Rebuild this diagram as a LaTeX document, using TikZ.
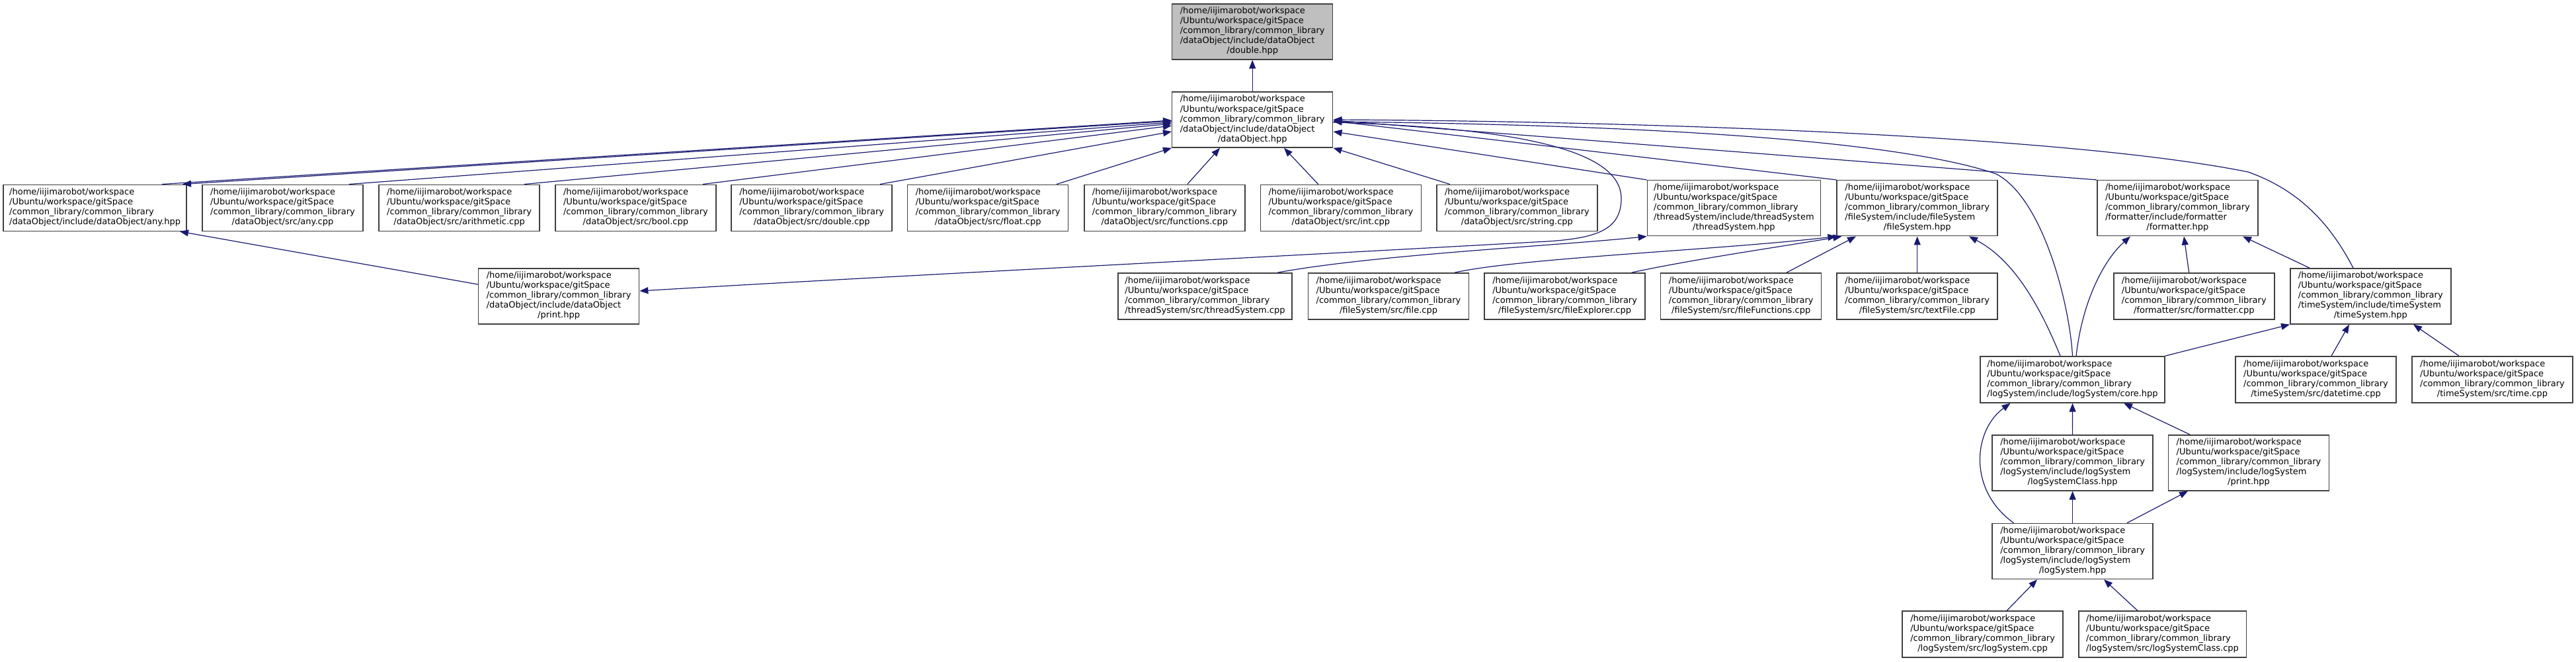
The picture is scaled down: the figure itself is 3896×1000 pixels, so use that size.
\documentclass[tikz,border=0pt]{standalone}
\usepackage{fontspec}
\setmainfont{DejaVu Sans}
\usepackage{xcolor}
\definecolor{edgeblue}{RGB}{25, 25, 112}
\definecolor{boxgray}{RGB}{64, 64, 64}
\definecolor{rootgray}{RGB}{191, 191, 191}
\usepackage{tikz}
\usetikzlibrary{arrows.meta, positioning, calc}

\newcommand{\pathhead}{/home/iijimarobot/workspace\\/Ubuntu/workspace/gitSpace\\/common\_library/common\_library}
\newcommand{\srcname}[1]{\begin{tabular}{@{}l@{}}\pathhead\\\multicolumn{1}{@{}c@{}}{#1}\end{tabular}}
\newcommand{\incname}[2]{\begin{tabular}{@{}l@{}}\pathhead\\#1\\\multicolumn{1}{@{}c@{}}{#2}\end{tabular}}

\begin{document}
\begin{tikzpicture}[x=0.1mm, y=-0.1mm,
    filebox/.style={draw=boxgray, fill=white, line width=0.15mm, inner sep=0pt, minimum width=24.3mm, minimum height=7mm, font=\fontsize{3.7}{4.27}\selectfont},
    filebox5/.style={filebox, minimum height=8.4mm},
    rootbox/.style={filebox5, fill=rootgray},
    dep/.style={draw=edgeblue, line width=0.12mm, -{Triangle[length=1.3mm, width=1mm]}}]
    \useasboundingbox (0,0) rectangle (3896,1000);

    \node[rootbox] (dbl) at (1894.2,47.9) {\incname{/dataObject/include/dataObject}{/double.hpp}};
    \node[filebox5] (dobj) at (1894.2,181) {\incname{/dataObject/include/dataObject}{/dataObject.hpp}};

    \node[filebox, minimum width=27.7mm] (anyh) at (143.6,314.3) {\srcname{/dataObject/include/dataObject/any.hpp}};
    \node[filebox] (anyc) at (427.5,314.3) {\srcname{/dataObject/src/any.cpp}};
    \node[filebox] (arith) at (694.6,314.3) {\srcname{/dataObject/src/arithmetic.cpp}};
    \node[filebox] (boolc) at (961.4,314.3) {\srcname{/dataObject/src/bool.cpp}};
    \node[filebox] (dblc) at (1227.7,314.3) {\srcname{/dataObject/src/double.cpp}};
    \node[filebox] (floatc) at (1494.2,314.3) {\srcname{/dataObject/src/float.cpp}};
    \node[filebox] (funcc) at (1761.3,314.3) {\srcname{/dataObject/src/functions.cpp}};
    \node[filebox] (intc) at (2027.9,314.3) {\srcname{/dataObject/src/int.cpp}};
    \node[filebox] (strc) at (2294.4,314.3) {\srcname{/dataObject/src/string.cpp}};
    \node[filebox5, minimum width=26.2mm] (thrh) at (2622.4,314.7) {\incname{/threadSystem/include/threadSystem}{/threadSystem.hpp}};
    \node[filebox5] (fsh) at (2899.7,314.7) {\incname{/fileSystem/include/fileSystem}{/fileSystem.hpp}};
    \node[filebox5] (fmth) at (3293.4,314.7) {\incname{/formatter/include/formatter}{/formatter.hpp}};

    \node[filebox5] (printd) at (845.1,447.9) {\incname{/dataObject/include/dataObject}{/print.hpp}};
    \node[filebox, minimum width=26.3mm] (thrc) at (1822.5,447.9) {\srcname{/threadSystem/src/threadSystem.cpp}};
    \node[filebox] (filec) at (2100,447.9) {\srcname{/fileSystem/src/file.cpp}};
    \node[filebox] (fexp) at (2366.6,447.9) {\srcname{/fileSystem/src/fileExplorer.cpp}};
    \node[filebox] (ffun) at (2633.2,447.9) {\srcname{/fileSystem/src/fileFunctions.cpp}};
    \node[filebox] (tfile) at (2899.7,447.9) {\srcname{/fileSystem/src/textFile.cpp}};
    \node[filebox] (fmtc) at (3318.3,447.9) {\srcname{/formatter/src/formatter.cpp}};
    \node[filebox5] (tsh) at (3585.3,447.9) {\incname{/timeSystem/include/timeSystem}{/timeSystem.hpp}};

    \node[filebox, minimum width=27.9mm] (core) at (3134.5,573.9) {\srcname{/logSystem/include/logSystem/core.hpp}};
    \node[filebox] (dtc) at (3502.5,573.9) {\srcname{/timeSystem/src/datetime.cpp}};
    \node[filebox] (timec) at (3769.5,573.9) {\srcname{/timeSystem/src/time.cpp}};

    \node[filebox5] (lsch) at (3134.6,699.8) {\incname{/logSystem/include/logSystem}{/logSystemClass.hpp}};
    \node[filebox5] (printl) at (3401,699.8) {\incname{/logSystem/include/logSystem}{/print.hpp}};
    \node[filebox5] (lsh) at (3134.6,833.5) {\incname{/logSystem/include/logSystem}{/logSystem.hpp}};
    \node[filebox] (lsc) at (2998.6,959.2) {\srcname{/logSystem/src/logSystem.cpp}};
    \node[filebox, minimum width=25.35mm] (lscc) at (3270.5,959.2) {\srcname{/logSystem/src/logSystemClass.cpp}};

    \draw[dep] (dobj) -- (dbl);
    \draw[dep] ([xshift=10.14mm]anyh.north) -- ([yshift=-0.1mm]dobj.west);
    \draw[dep] ([yshift=-0.2mm]dobj.west) -- ([xshift=13.24mm]anyh.north);
    \draw[dep] ([xshift=10.05mm]anyc.north) -- ([yshift=-0.4mm]dobj.west);
    \draw[dep] ([xshift=9.84mm]arith.north) -- ([yshift=-0.6mm]dobj.west);
    \draw[dep] ([xshift=10.16mm]boolc.north) -- ([yshift=-0.9mm]dobj.west);
    \draw[dep] ([xshift=10.33mm]dblc.north) -- ([yshift=-1.8mm]dobj.west);
    \draw[dep] ([xshift=10.38mm]floatc.north) -- (dobj.south west);
    \draw[dep] ([xshift=3.45mm]funcc.north) -- ([xshift=-4.92mm]dobj.south);
    \draw[dep] ([xshift=-3.42mm]intc.north) -- ([xshift=4.78mm]dobj.south);
    \draw[dep] ([xshift=-10.17mm]strc.north) -- (dobj.south east);

    \draw[dep] (thrh.north west) -- ([yshift=-1.8mm]dobj.east);
    \draw[dep] (fsh.north west) -- ([yshift=-0.2mm]dobj.east);
    \draw[dep] (fmth.north west) -- ([yshift=-0.1mm]dobj.east);
    \draw[dep] ([xshift=-2.63mm]tsh.north) .. controls (3520,330) and (3470,285) .. (3400,260) .. controls (3100,200) and (2400,183) .. (dobj.east);
    \draw[dep] (core.north) .. controls (3130,460) and (3090,300) .. (3019,263) .. controls (2850,205) and (2400,188) .. ([yshift=-0.3mm]dobj.east);
    \draw[dep] ([yshift=-0.4mm]dobj.east) .. controls (2350,195) and (2455,240) .. (2452,303) .. controls (2450,345) and (2420,360) .. (2340,365) .. controls (1800,395) and (1300,420) .. ([yshift=0.79mm]printd.east);
    \draw[dep] ([yshift=1.79mm]printd.west) -- ([xshift=12.84mm]anyh.south);

    \draw[dep] ([xshift=10.95mm]thrc.north) .. controls (2080,385) and (2350,372) .. (thrh.south west);
    \draw[dep] ([xshift=10mm]filec.north) .. controls (2300,390) and (2600,378) .. (fsh.south west);
    \draw[dep] ([xshift=10.1mm]fexp.north) .. controls (2560,392) and (2700,372) .. ([xshift=0.8mm]fsh.south west);
    \draw[dep] ([xshift=6.88mm]ffun.north) -- ([xshift=-9.27mm]fsh.south);
    \draw[dep] (tfile) -- (fsh);
    \draw[dep] ([xshift=-1.85mm]core.north) .. controls (3080,450) and (3040,390) .. ([xshift=7.83mm]fsh.south);
    \draw[dep] ([xshift=-0.76mm]fmtc.north) -- ([xshift=0.96mm]fmth.south);
    \draw[dep] ([xshift=-9.23mm]tsh.north) -- ([xshift=9.86mm]fmth.south);
    \draw[dep] ([xshift=0.55mm]core.north) .. controls (3150,450) and (3185,390) .. ([xshift=-7.14mm]fmth.south);
    \draw[dep] (core.north east) -- (tsh.south west);
    \draw[dep] ([xshift=2.35mm]dtc.north) -- ([xshift=-3.23mm]tsh.south);
    \draw[dep] ([xshift=-5.05mm]timec.north) -- ([xshift=6.47mm]tsh.south);

    \draw[dep] (lsch) -- (core);
    \draw[dep] ([xshift=-8.9mm]printl.north) -- ([xshift=7.75mm]core.south);
    \draw[dep] ([xshift=-8.91mm]lsh.north) .. controls (2975,740) and (2985,650) .. ([xshift=-9.4mm]core.south);
    \draw[dep] (lsh) -- (lsch);
    \draw[dep] ([xshift=8.24mm]lsh.north) -- ([xshift=-9.2mm]printl.south);
    \draw[dep] ([xshift=3.64mm]lsc.north) -- ([xshift=-5.36mm]lsh.south);
    \draw[dep] ([xshift=-3.75mm]lscc.north) -- ([xshift=4.74mm]lsh.south);
\end{tikzpicture}
\end{document}
